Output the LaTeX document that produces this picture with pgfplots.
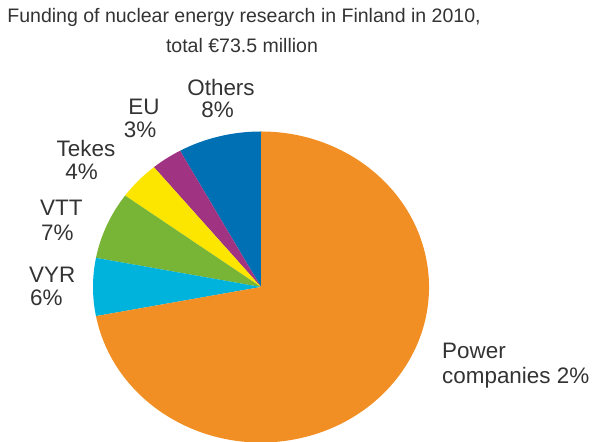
\documentclass[border=0pt]{standalone}
\usepackage{pgfplots}
\pgfplotsset{compat=1.18}
\usepackage{fontspec}
\setmainfont{Liberation Sans}

\definecolor{cpower}{HTML}{F28F24}
\definecolor{cvyr}{HTML}{00B3DD}
\definecolor{cvtt}{HTML}{78B435}
\definecolor{ctekes}{HTML}{FCE600}
\definecolor{ceu}{HTML}{A03482}
\definecolor{cothers}{HTML}{0070B5}
\definecolor{txt}{HTML}{333333}

% pie centre and radii in picture units (1 unit = 1bp)
\newcommand{\cx}{261}
\newcommand{\cy}{155}
\newcommand{\rx}{168}
\newcommand{\ry}{155.5}
% slice from cumulative share #1 to #2 (percent), counter-clockwise from the top
\newcommand{\slice}[3]{%
  \fill[#3] (axis cs:\cx,\cy)
    -- (axis cs:{\cx+\rx*cos(90+3.6*#1)},{\cy+\ry*sin(90+3.6*#1)})
    arc[start angle={90+3.6*#1}, end angle={90+3.6*#2}, x radius=\rx bp, y radius=\ry bp]
    -- cycle;}

\begin{document}
\begin{tikzpicture}
\begin{axis}[hide axis, scale only axis, x=1bp, y=1bp,
  xmin=0, xmax=592, ymin=0, ymax=442, clip=true]
  \path (axis cs:0,0) rectangle (axis cs:592,442);
  % Others 8, EU 3, Tekes 4, VTT 7, VYR 6, Power companies 72
  \slice{0}{8}{cothers}
  \slice{8}{11}{ceu}
  \slice{11}{15}{ctekes}
  \slice{15}{22}{cvtt}
  \slice{22}{28}{cvyr}
  \slice{28}{100}{cpower}

  \begin{scope}[every node/.style={font=\fontsize{19.6}{22}\selectfont, text=txt, inner sep=0pt}]
    \node[anchor=base] at (axis cs:244,419.3) {Funding of nuclear energy research in Finland in 2010,};
    \node[anchor=base] at (axis cs:242,389) {total €73.5 million};
  \end{scope}

  \begin{scope}[every node/.style={font=\fontsize{22.5}{26}\selectfont, text=txt, inner sep=0pt}]
    \node[anchor=base] at (axis cs:221,346) {Others};
    \node[anchor=base] at (axis cs:217.5,324) {8\%};
    \node[anchor=base] at (axis cs:144,327) {EU};
    \node[anchor=base] at (axis cs:140,304) {3\%};
    \node[anchor=base] at (axis cs:86,285.3) {Tekes};
    \node[anchor=base] at (axis cs:81.5,262) {4\%};
    \node[anchor=base west] at (axis cs:40,226) {VTT};
    \node[anchor=base west] at (axis cs:41,201.3) {7\%};
    \node[anchor=base west] at (axis cs:29,159.3) {VYR};
    \node[anchor=base west] at (axis cs:30,136) {6\%};
    \node[anchor=base west] at (axis cs:442,83) {Power};
    \node[anchor=base west] at (axis cs:442,58) {companies 2\%};
  \end{scope}
\end{axis}
\end{tikzpicture}
\end{document}
